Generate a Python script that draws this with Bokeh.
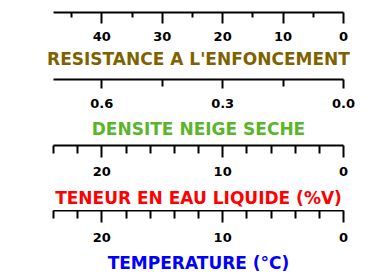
from bokeh.plotting import figure
from bokeh.layouts import column
from bokeh.models import Range1d, FixedTicker, PrintfTickFormatter
from bokeh.embed import file_html
from bokeh.resources import INLINE

# ---- data ----
titles = ["RESISTANCE A L'ENFONCEMENT", "DENSITE NEIGE SECHE",
          "TENEUR EN EAU LIQUIDE (%V)", "TEMPERATURE (°C)"]
colors = ["#7f6200", "#5ab52a", "#ff0000", "#0000ff"]
range_max = [48, 0.72, 24, 24]
major_ticks = [[0, 10, 20, 30, 40], [0.0, 0.3, 0.6], [0, 10, 20], [0, 10, 20]]
minor_ticks = [[5, 15, 25, 35, 45], [0.15, 0.45],
               [2, 4, 6, 8, 12, 14, 16, 18, 22, 24],
               [2, 4, 6, 8, 12, 14, 16, 18, 22, 24]]
formats = ["%d", "%.1f", "%d", "%d"]

tops = [9, 0, 0, 0]
frame_h = 3
bottoms = [64, 64, 64, 60]
major_len = [11, 9, 12, 12]
minor_len = [5, 7, 8, 8]
label_standoff = [8, 10, 9, 10]
title_standoff = [5, 8, 9, 8]

figs = []
for i in range(4):
    h = tops[i] + frame_h + bottoms[i]
    p = figure(width=370, height=h, output_backend="svg",
               toolbar_location=None, x_range=Range1d(range_max[i], 0),
               y_range=Range1d(0, 1), y_axis_location=None,
               min_border_left=53, min_border_right=27,
               min_border_top=tops[i], min_border_bottom=bottoms[i])
    p.outline_line_color = None
    p.grid.visible = False
    p.background_fill_color = None
    p.border_fill_color = None
    ax = p.xaxis[0]
    ax.ticker = FixedTicker(ticks=major_ticks[i], minor_ticks=minor_ticks[i])
    ax.formatter = PrintfTickFormatter(format=formats[i])
    ax.axis_line_width = 2
    ax.axis_line_color = "black"
    ax.major_tick_line_width = 2
    ax.minor_tick_line_width = 2
    ax.major_tick_in = 0
    ax.minor_tick_in = 0
    ax.major_tick_out = major_len[i]
    ax.minor_tick_out = minor_len[i]
    ax.major_label_standoff = label_standoff[i]
    ax.major_label_text_font = "DejaVu Sans"
    ax.major_label_text_font_style = "bold"
    ax.major_label_text_font_size = "13px"
    ax.major_label_text_color = "black"
    ax.axis_label = titles[i]
    ax.axis_label_text_font = "DejaVu Sans"
    ax.axis_label_text_font_style = "bold"
    ax.axis_label_text_font_size = "17px"
    ax.axis_label_text_color = colors[i]
    ax.axis_label_standoff = title_standoff[i]
    figs.append(p)

layout = column(*figs, spacing=0)
open("out.html", "w").write(file_html(layout, INLINE))
